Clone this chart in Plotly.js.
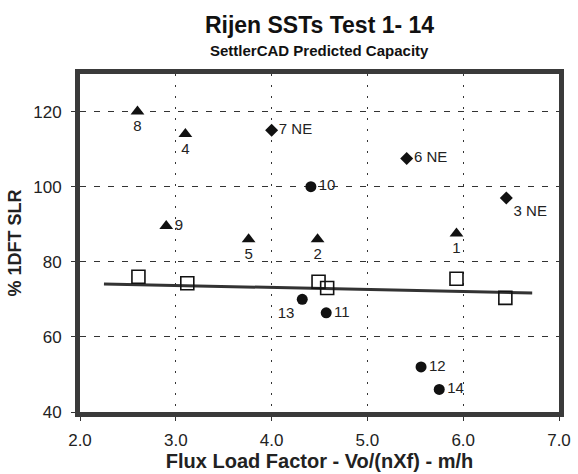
<!DOCTYPE html>
<html>
<head>
<meta charset="utf-8">
<script src="https://cdn.plot.ly/plotly-3.0.1.min.js"></script>
<style>html,body{margin:0;padding:0;background:#fff;}#chart{width:578px;height:474px;}</style>
</head>
<body>
<div id="chart"></div>
<script>
// Triangles (tests)
const triX = [5.93, 4.48, 3.10, 3.76, 2.60, 2.90];
const triY = [87.5, 86.0, 114.0, 86.0, 120.0, 89.5];
const triLabels = ['1', '2', '4', '5', '8', '9'];
const triPos = ['bottom center', 'bottom center', 'bottom center', 'bottom center', 'bottom center', 'middle right'];

// Diamonds (NE tests)
const diaX = [6.45, 5.41, 4.00];
const diaY = [97.0, 107.5, 115.0];
const diaLabels = ['3 NE', '6 NE', '7 NE'];
const diaPos = ['bottom right', 'middle right', 'middle right'];

// Circles
const cirX = [4.41, 4.57, 5.56, 4.32, 5.75];
const cirY = [100.0, 66.4, 52.0, 70.0, 46.0];
const cirLabels = ['10', '11', '12', '13', '14'];
const cirPos = ['middle right', 'middle right', 'middle right', 'bottom left', 'middle right'];

// Open squares (SettlerCAD predicted)
const sqX = [2.61, 3.12, 4.49, 4.58, 5.93, 6.44];
const sqY = [76.0, 74.3, 74.7, 73.0, 75.5, 70.4];

// Trend line
const lineX = [2.25, 6.72];
const lineY = [74.1, 71.7];

// Axis ticks
const xTicks = [2, 3, 4, 5, 6, 7];
const yTicks = [40, 60, 80, 100, 120];

const FONT = 'Liberation Sans, Arial, sans-serif';
const textFont = {family: FONT, size: 15, color: '#222'};

const traces = [
  {x: lineX, y: lineY, mode: 'lines', line: {color: '#333', width: 3}, hoverinfo: 'skip'},
  {x: sqX, y: sqY, mode: 'markers', marker: {symbol: 'square-open', size: 13, color: '#111', line: {width: 1.6, color: '#111'}}},
  {x: triX, y: triY, text: triLabels, textposition: triPos, mode: 'markers+text', textfont: textFont,
   marker: {symbol: 'triangle-up', size: 12, color: '#111'}},
  {x: diaX, y: diaY, text: diaLabels, textposition: diaPos, mode: 'markers+text', textfont: textFont,
   marker: {symbol: 'diamond', size: 10, color: '#111'}},
  {x: cirX, y: cirY, text: cirLabels, textposition: cirPos, mode: 'markers+text', textfont: textFont,
   marker: {symbol: 'circle', size: 11, color: '#111'}}
];

const layout = {
  width: 578, height: 474,
  margin: {l: 80, r: 19, t: 74, b: 62},
  paper_bgcolor: '#fff', plot_bgcolor: '#fff',
  showlegend: false,
  font: {family: FONT, color: '#222'},
  title: {text: '<b>Rijen SSTs Test 1- 14</b>', font: {family: FONT, size: 23, color: '#111'},
          x: 0.5, xref: 'paper', xanchor: 'center', y: 1 - 25/474, yref: 'container', yanchor: 'middle'},
  annotations: [
    {text: '<b>SettlerCAD Predicted Capacity</b>', xref: 'paper', yref: 'paper', x: 0.5, y: 1 + 24/338,
     xanchor: 'center', yanchor: 'middle', showarrow: false, font: {family: FONT, size: 15, color: '#111'}}
  ],
  xaxis: {
    range: [2, 7], tickvals: xTicks, tickformat: '.1f',
    showline: true, mirror: true, linewidth: 5, linecolor: '#3a3a3a',
    ticks: 'outside', ticklen: 4, tickwidth: 1, tickcolor: '#333', ticklabelstandoff: 5,
    showgrid: true, gridcolor: '#333', gridwidth: 1, griddash: '2px,9px',
    zeroline: false, tickfont: {family: FONT, size: 17, color: '#222'},
    title: {text: '<b>Flux Load Factor - Vo/(nXf) - m/h</b>', font: {family: FONT, size: 20, color: '#222'}, standoff: 2}
  },
  yaxis: {
    range: [40, 130], tickvals: yTicks,
    showline: true, mirror: true, linewidth: 5, linecolor: '#3a3a3a',
    ticks: 'outside', ticklen: 4, tickwidth: 1, tickcolor: '#333', ticklabelstandoff: 6,
    showgrid: true, gridcolor: '#333', gridwidth: 1, griddash: '6px,8px',
    zeroline: false, tickfont: {family: FONT, size: 17, color: '#222'},
    title: {text: '<b>% 1DFT SLR</b>', font: {family: FONT, size: 18, color: '#222'}, standoff: 8}
  }
};

Plotly.newPlot('chart', traces, layout, {staticPlot: true, displayModeBar: false});
</script>
</body>
</html>
